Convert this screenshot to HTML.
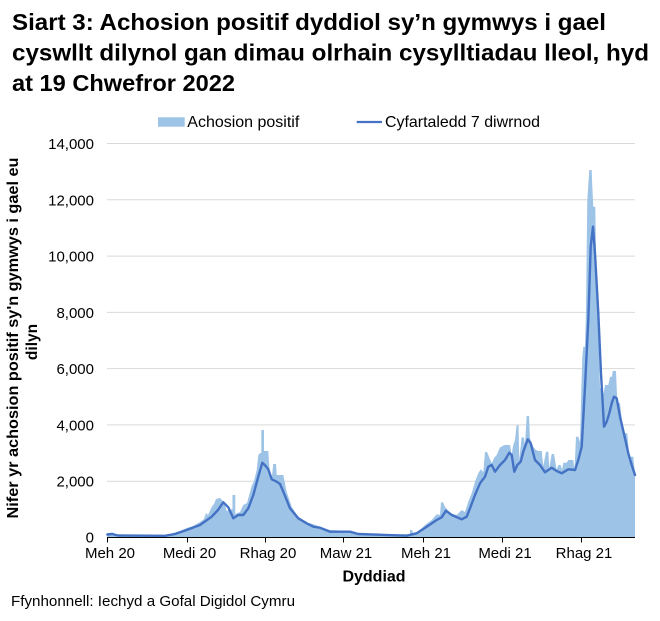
<!DOCTYPE html>
<html>
<head>
<meta charset="utf-8">
<style>
  html,body{margin:0;padding:0;background:#fff;}
  svg{display:block;}
  text{font-family:"Liberation Sans",Arial,sans-serif;fill:#000;}
</style>
</head>
<body>
<svg width="660" height="621" viewBox="0 0 660 621" xmlns="http://www.w3.org/2000/svg">
  <rect width="660" height="621" fill="#fff"/>

  <!-- Title -->
  <text x="12" y="30" font-size="23" font-weight="bold" textLength="594" lengthAdjust="spacingAndGlyphs">Siart 3: Achosion positif dyddiol sy’n gymwys i gael</text>
  <text x="12" y="60.5" font-size="23" font-weight="bold" textLength="637" lengthAdjust="spacingAndGlyphs">cyswllt dilynol gan dimau olrhain cysylltiadau lleol, hyd</text>
  <text x="12" y="91" font-size="23" font-weight="bold" textLength="223" lengthAdjust="spacingAndGlyphs">at 19 Chwefror 2022</text>

  <!-- Legend -->
  <rect x="158" y="117.3" width="26.7" height="9.4" fill="#9dc3e6"/>
  <text x="187.3" y="127" font-size="16" textLength="112" lengthAdjust="spacingAndGlyphs">Achosion positif</text>
  <line x1="356.7" y1="122" x2="382" y2="122" stroke="#4472c4" stroke-width="2.25"/>
  <text x="385" y="127" font-size="16" textLength="155" lengthAdjust="spacingAndGlyphs">Cyfartaledd 7 diwrnod</text>

  <!-- Gridlines -->
  <g stroke="#d9d9d9" stroke-width="1">
    <line x1="107" y1="143.5" x2="635" y2="143.5"/>
    <line x1="107" y1="199.8" x2="635" y2="199.8"/>
    <line x1="107" y1="256.1" x2="635" y2="256.1"/>
    <line x1="107" y1="312.4" x2="635" y2="312.4"/>
    <line x1="107" y1="368.6" x2="635" y2="368.6"/>
    <line x1="107" y1="424.9" x2="635" y2="424.9"/>
    <line x1="107" y1="481.2" x2="635" y2="481.2"/>
  </g>

  <!-- Y tick labels -->
  <g font-size="15" text-anchor="end">
    <text x="94" y="149">14,000</text>
    <text x="94" y="205.3">12,000</text>
    <text x="94" y="261.6">10,000</text>
    <text x="94" y="317.9">8,000</text>
    <text x="94" y="374.1">6,000</text>
    <text x="94" y="430.4">4,000</text>
    <text x="94" y="486.7">2,000</text>
    <text x="94" y="542.5">0</text>
  </g>

  <!-- Y axis title -->
  <text transform="translate(18,338) rotate(-90)" font-size="15.5" font-weight="bold" text-anchor="middle" textLength="361" lengthAdjust="spacingAndGlyphs">Nifer yr achosion positif sy'n gymwys i gael eu</text>
  <text transform="translate(37,342) rotate(-90)" font-size="15.5" font-weight="bold" text-anchor="middle">dilyn</text>

  <!-- Bars (daily positives) -->
  <path fill="#9dc3e6" d="M107.3,537.5
    L107.3,534 L110,533 L113,532.5 L115,534 L118,535 L165,535 L170,534 L175,532.5 L180,531 L186.7,528 L193,526 L200,522 L204,519 L206,513 L208,515 L211.7,507 L214,504 L216,499 L220,498 L223,501 L225,505 L226.7,511 L229,510 L232.5,509 L232.5,495 L235.3,495 L235.3,514 L240,512 L243.3,505 L247,503 L251.7,486 L254,481 L256.7,470 L258.3,455 L260,453 L261.3,453 L261.3,430 L264,430 L264,451 L268.3,451 L270,477 L272,476 L273.3,464 L276,464 L276.7,475 L283.3,475 L286.7,492 L291.7,506.7 L295,512 L298.3,516.7 L303,520 L306.7,522.7 L310,523.3 L313.3,524.3 L320,526.7 L330,530 L340,530.5 L350,531 L353.3,531.7 L356.7,534 L376.7,534.3 L410,534.3 L410,530 L412,530 L413,533 L418,532 L425,525 L431.7,520 L436.7,514.3 L440,515 L441,502.3 L443,502.3 L445,506.7 L450,513.3 L456.7,515 L461.7,510 L465,512 L468.3,501.7 L471.7,493.3 L475,481.7 L478.3,473.3 L480.7,469.3 L483.3,472 L485,452 L487,452 L488.3,455 L491.7,463.3 L494,458 L496.7,455 L500,447.3 L501.7,446.7 L504,445 L510,445 L511.7,455 L513,446 L515,440 L516.7,425 L518.5,425 L519.3,460 L521.7,436.7 L524,438 L525,445 L526.7,416 L529,416 L530,438.3 L533.3,446.7 L536,450 L538.3,451 L541.7,451 L543.3,466 L546,451.7 L548.3,451.7 L549.3,468 L551.7,454 L554,454 L556.7,470 L558.3,465 L560.7,465 L562,470 L563.3,462.7 L566.7,462.7 L568.3,460 L573.3,460 L574.5,470 L576,436.7 L578.3,436.7 L580,442 L581,401.7 L582.3,356.7 L583.3,346.7 L585,346.7 L586,310 L587.3,200 L589.3,170 L591.7,170 L592,180 L593.3,206.7 L595.3,206.7 L596.7,300 L598.3,326.7 L600,388.3 L601,388.3 L603.3,395 L605,385 L608.3,385 L610,376.7 L612,376.7 L612.7,371 L616,371 L617.3,401.7 L620,403.3 L623.3,433.3 L627.3,433.3 L629.3,456.7 L633.3,456.7 L635,473.3 L635,537.5 Z"/>

  <!-- 7-day average -->
  <polyline fill="none" stroke="#4472c4" stroke-width="2.4" stroke-linejoin="round" stroke-linecap="round" points="
    107.3,534.5 112,534 118,535.5 165,535.8 175,534 186.7,530 200,525 211.7,516.7 218,510 223.3,502.3 228.3,507.3 233.3,518.3 238.3,515 243.3,515 248.3,508.3 253.3,495 258.3,476.7 262.3,462.7 265.7,466 268.3,469.3 271.7,479.3 276.7,481.7 280,484 283.3,491.7 290,508.3 298.3,518.3 306.7,523.3 313.3,526.7 320,527.7 330,531.7 350,531.7 358.3,534 406.7,535.7 416.7,533.3 426.7,526.7 436.7,520 441.7,517.3 446,510.7 451.7,515 461.7,519.3 466.7,516.7 470,508.3 475,495 480,483.3 485,476.7 488.3,466.7 491.7,465 495,471.7 500,465 505,460 509.3,452.7 511.7,455 514.3,471.7 517.3,465 520.7,461.7 523.3,451.7 527.7,439.3 530.7,443.3 535,460 540,465 545,472.3 551.7,467.7 556.7,471 561.7,473.3 568.3,469.3 575,470 578.3,460 581.7,446.7 585,386.7 588.3,320 590.7,246.7 593,226.7 595,253.3 598.3,313.3 601,373.3 604,426.7 606.7,421.7 609.3,413.3 611.7,403.3 614,396.7 616.7,398.3 620,416.7 625,438.3 628.3,453.3 631.7,465 635,475"/>

  <!-- X axis -->
  <line x1="107" y1="537.5" x2="635" y2="537.5" stroke="#000" stroke-width="1"/>
  <g stroke="#000" stroke-width="1">
    <line x1="107.5" y1="537.5" x2="107.5" y2="542.5"/>
    <line x1="187.5" y1="537.5" x2="187.5" y2="542.5"/>
    <line x1="265.5" y1="537.5" x2="265.5" y2="542.5"/>
    <line x1="343.5" y1="537.5" x2="343.5" y2="542.5"/>
    <line x1="423.5" y1="537.5" x2="423.5" y2="542.5"/>
    <line x1="502.5" y1="537.5" x2="502.5" y2="542.5"/>
    <line x1="581.5" y1="537.5" x2="581.5" y2="542.5"/>
  </g>

  <!-- X tick labels -->
  <g font-size="15" text-anchor="middle">
    <text x="110" y="558">Meh 20</text>
    <text x="189.5" y="558">Medi 20</text>
    <text x="268" y="558">Rhag 20</text>
    <text x="346" y="558">Maw 21</text>
    <text x="426" y="558">Meh 21</text>
    <text x="505" y="558">Medi 21</text>
    <text x="584" y="558">Rhag 21</text>
  </g>

  <!-- X axis title -->
  <text x="374" y="581.5" font-size="16" font-weight="bold" text-anchor="middle">Dyddiad</text>

  <!-- Source -->
  <text x="11" y="606" font-size="15" textLength="284" lengthAdjust="spacingAndGlyphs">Ffynhonnell: Iechyd a Gofal Digidol Cymru</text>
</svg>
</body>
</html>
